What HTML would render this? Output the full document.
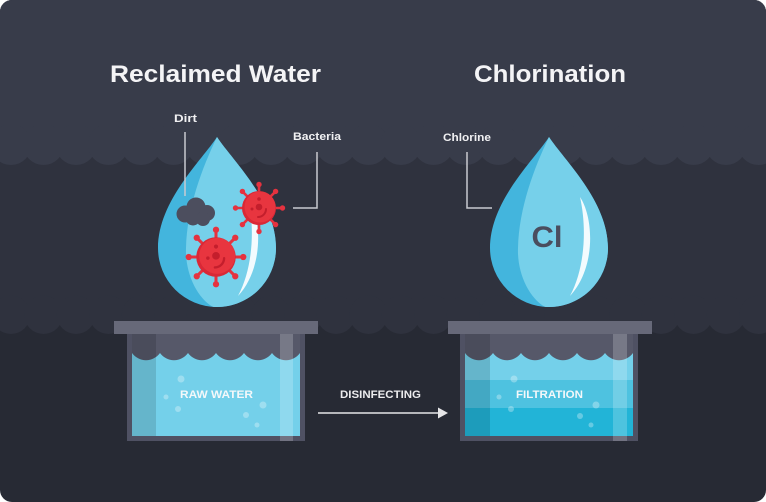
<!DOCTYPE html>
<html><head><meta charset="utf-8"><style>
html,body{margin:0;padding:0;background:#fff;}
svg{display:block;}
text{font-family:"Liberation Sans",Arial,sans-serif;font-weight:bold;}
</style></head><body>
<svg width="766" height="502" viewBox="0 0 766 502" xmlns="http://www.w3.org/2000/svg">
<defs>
<clipPath id="c"><rect x="0" y="0" width="766" height="502" rx="12" ry="12"/></clipPath>
<g id="bac">
  <g stroke="#e5323f" stroke-width="2.6" stroke-linecap="round">
    <line x1="0" y1="-15" x2="0" y2="-22"/>
    <line x1="0" y1="15" x2="0" y2="22"/>
    <line x1="-15" y1="0" x2="-22" y2="0"/>
    <line x1="15" y1="0" x2="22" y2="0"/>
    <line x1="10.6" y1="-10.6" x2="15.6" y2="-15.6"/>
    <line x1="-10.6" y1="-10.6" x2="-15.6" y2="-15.6"/>
    <line x1="10.6" y1="10.6" x2="15.6" y2="15.6"/>
    <line x1="-10.6" y1="10.6" x2="-15.6" y2="15.6"/>
  </g>
  <g fill="#e5323f">
    <circle cx="0" cy="-23.5" r="2.7"/><circle cx="0" cy="23.5" r="2.7"/>
    <circle cx="-23.5" cy="0" r="2.7"/><circle cx="23.5" cy="0" r="2.7"/>
    <circle cx="16.6" cy="-16.6" r="2.7"/><circle cx="-16.6" cy="-16.6" r="2.7"/>
    <circle cx="16.6" cy="16.6" r="2.7"/><circle cx="-16.6" cy="16.6" r="2.7"/>
  </g>
  <circle cx="0" cy="0" r="17" fill="#d92836"/>
  <circle cx="1" cy="-1" r="15.5" fill="#e8353f"/>
  <g fill="#c41e2c">
    <circle cx="0" cy="-9" r="1.8"/>
    <circle cx="0" cy="-1" r="3.3"/>
    <circle cx="-7" cy="1" r="1.5"/>
  </g>
  <path d="M7,1 A8,8 0 0 1 -1,9" fill="none" stroke="#c41e2c" stroke-width="2" stroke-linecap="round"/>
</g>
<g id="drop">
  <path d="M0,-111 C15,-88 59,-47 59,0 A59,59 0 0 1 -59,0 C-59,-47 -15,-88 0,-111 Z" fill="#43b5dd"/>
  <path d="M0,-111 C15,-88 59,-47 59,0 A59,59 0 0 1 -4,58.9 C-20,50 -32,25 -31,0 C-30,-40 -15,-80 0,-111 Z" fill="#76d0ea"/>
  <path d="M31,-51 C45,-30 47,20 21,48 C36,20 38,-20 31,-51 Z" fill="#f3fbfe"/>
</g>
</defs>
<g clip-path="url(#c)">
  <!-- background bands -->
  <rect x="0" y="0" width="766" height="502" fill="#272a34"/>
  <rect x="0" y="0" width="766" height="325" fill="#2f323e"/>
  <g fill="#2f323e">
    <circle cx="-21.5" cy="314.8" r="19.2"/><circle cx="11" cy="314.8" r="19.2"/><circle cx="43.5" cy="314.8" r="19.2"/><circle cx="76" cy="314.8" r="19.2"/><circle cx="108.5" cy="314.8" r="19.2"/><circle cx="141" cy="314.8" r="19.2"/><circle cx="173.5" cy="314.8" r="19.2"/><circle cx="206" cy="314.8" r="19.2"/><circle cx="238.5" cy="314.8" r="19.2"/><circle cx="271" cy="314.8" r="19.2"/><circle cx="303.5" cy="314.8" r="19.2"/><circle cx="336" cy="314.8" r="19.2"/><circle cx="368.5" cy="314.8" r="19.2"/><circle cx="401" cy="314.8" r="19.2"/><circle cx="433.5" cy="314.8" r="19.2"/><circle cx="466" cy="314.8" r="19.2"/><circle cx="498.5" cy="314.8" r="19.2"/><circle cx="531" cy="314.8" r="19.2"/><circle cx="563.5" cy="314.8" r="19.2"/><circle cx="596" cy="314.8" r="19.2"/><circle cx="628.5" cy="314.8" r="19.2"/><circle cx="661" cy="314.8" r="19.2"/><circle cx="693.5" cy="314.8" r="19.2"/><circle cx="726" cy="314.8" r="19.2"/><circle cx="758.5" cy="314.8" r="19.2"/><circle cx="791" cy="314.8" r="19.2"/>
  </g>
  <rect x="0" y="0" width="766" height="157" fill="#383c4a"/>
  <g fill="#383c4a">
    <circle cx="-21.5" cy="144.5" r="20.5"/><circle cx="11" cy="144.5" r="20.5"/><circle cx="43.5" cy="144.5" r="20.5"/><circle cx="76" cy="144.5" r="20.5"/><circle cx="108.5" cy="144.5" r="20.5"/><circle cx="141" cy="144.5" r="20.5"/><circle cx="173.5" cy="144.5" r="20.5"/><circle cx="206" cy="144.5" r="20.5"/><circle cx="238.5" cy="144.5" r="20.5"/><circle cx="271" cy="144.5" r="20.5"/><circle cx="303.5" cy="144.5" r="20.5"/><circle cx="336" cy="144.5" r="20.5"/><circle cx="368.5" cy="144.5" r="20.5"/><circle cx="401" cy="144.5" r="20.5"/><circle cx="433.5" cy="144.5" r="20.5"/><circle cx="466" cy="144.5" r="20.5"/><circle cx="498.5" cy="144.5" r="20.5"/><circle cx="531" cy="144.5" r="20.5"/><circle cx="563.5" cy="144.5" r="20.5"/><circle cx="596" cy="144.5" r="20.5"/><circle cx="628.5" cy="144.5" r="20.5"/><circle cx="661" cy="144.5" r="20.5"/><circle cx="693.5" cy="144.5" r="20.5"/><circle cx="726" cy="144.5" r="20.5"/><circle cx="758.5" cy="144.5" r="20.5"/><circle cx="791" cy="144.5" r="20.5"/>
  </g>

  <!-- titles -->
  <text x="110" y="82" font-size="24" fill="#f4f4f6" textLength="211" lengthAdjust="spacingAndGlyphs">Reclaimed Water</text>
  <text x="474" y="82" font-size="24" fill="#f4f4f6" textLength="152" lengthAdjust="spacingAndGlyphs">Chlorination</text>

  <!-- labels -->
  <text x="174" y="122" font-size="11" fill="#f0f0f2" textLength="23" lengthAdjust="spacingAndGlyphs">Dirt</text>
  <text x="293" y="140" font-size="11" fill="#f0f0f2" textLength="48" lengthAdjust="spacingAndGlyphs">Bacteria</text>
  <text x="443" y="141" font-size="11" fill="#f0f0f2" textLength="48" lengthAdjust="spacingAndGlyphs">Chlorine</text>

  <!-- drops -->
  <use href="#drop" transform="translate(217,248)"/>
  <use href="#drop" transform="translate(549,248)"/>

  <!-- connectors -->
  <g stroke="#c9cad0" stroke-width="1.5" fill="none">
    <line x1="185" y1="132" x2="185" y2="196"/>
    <polyline points="317,152 317,208 293,208"/>
    <polyline points="467,152 467,208 492,208"/>
  </g>

  <!-- dirt cloud -->
  <g fill="#4c4e5e">
    <circle cx="185" cy="214" r="8.5"/>
    <circle cx="196" cy="207" r="9.5"/>
    <circle cx="207" cy="213" r="8"/>
    <circle cx="193" cy="218" r="7.5"/>
    <circle cx="203" cy="219" r="7"/>
  </g>

  <!-- bacteria -->
  <use href="#bac" transform="translate(259,208)"/>
  <use href="#bac" transform="translate(216,257) scale(1.16)"/>

  <!-- Cl -->
  <text x="547" y="247" font-size="30" fill="#4a4d5e" text-anchor="middle" textLength="31" lengthAdjust="spacingAndGlyphs">Cl</text>

  <!-- left tank -->
  <rect x="114" y="321" width="204" height="13" fill="#676979"/>
  <rect x="127" y="334" width="178" height="107" fill="#4f5163"/>
  <rect x="132" y="334" width="168" height="102" fill="#565869"/>
  <path d="M132,353 A17.2,17.2 0 0 0 160,353 A17.2,17.2 0 0 0 188,353 A17.2,17.2 0 0 0 216,353 A17.2,17.2 0 0 0 244,353 A17.2,17.2 0 0 0 272,353 A17.2,17.2 0 0 0 300,353 L300,436 L132,436 Z" fill="#74d0ea"/>
  <rect x="132" y="334" width="24" height="102" fill="#000" opacity="0.13"/>
  <rect x="280" y="334" width="13" height="107" fill="#fff" opacity="0.2"/>
  <g fill="#fff" opacity="0.3">
    <circle cx="181" cy="379" r="3.5"/><circle cx="166" cy="397" r="2.5"/><circle cx="178" cy="409" r="3"/>
    <circle cx="263" cy="405" r="3.5"/><circle cx="246" cy="415" r="3"/><circle cx="257" cy="425" r="2.5"/>
  </g>
  <text x="180" y="398" font-size="11" fill="#f4f8fa" textLength="73" lengthAdjust="spacingAndGlyphs">RAW WATER</text>

  <!-- arrow -->
  <text x="340" y="398" font-size="11" fill="#ececee" textLength="81" lengthAdjust="spacingAndGlyphs">DISINFECTING</text>
  <line x1="318" y1="413" x2="439" y2="413" stroke="#e6e6e8" stroke-width="1.5"/>
  <polygon points="438,407.5 448,413 438,418.5" fill="#e6e6e8"/>

  <!-- right tank -->
  <rect x="448" y="321" width="204" height="13" fill="#676979"/>
  <rect x="460" y="334" width="178" height="107" fill="#4f5163"/>
  <rect x="465" y="334" width="168" height="102" fill="#565869"/>
  <path d="M465,353 A17.2,17.2 0 0 0 493,353 A17.2,17.2 0 0 0 521,353 A17.2,17.2 0 0 0 549,353 A17.2,17.2 0 0 0 577,353 A17.2,17.2 0 0 0 605,353 A17.2,17.2 0 0 0 633,353 L633,436 L465,436 Z" fill="#74d0ea"/>
  <rect x="465" y="380" width="168" height="28" fill="#4ec2e0"/>
  <rect x="465" y="408" width="168" height="28" fill="#22b4d7"/>
  <rect x="465" y="334" width="25" height="102" fill="#000" opacity="0.13"/>
  <rect x="613" y="334" width="14" height="107" fill="#fff" opacity="0.2"/>
  <g fill="#fff" opacity="0.3">
    <circle cx="514" cy="379" r="3.5"/><circle cx="499" cy="397" r="2.5"/><circle cx="511" cy="409" r="3"/>
    <circle cx="596" cy="405" r="3.5"/><circle cx="580" cy="416" r="3"/><circle cx="591" cy="425" r="2.5"/>
  </g>
  <text x="516" y="398" font-size="11" fill="#f4f8fa" textLength="67" lengthAdjust="spacingAndGlyphs">FILTRATION</text>
</g>
</svg>
</body></html>
